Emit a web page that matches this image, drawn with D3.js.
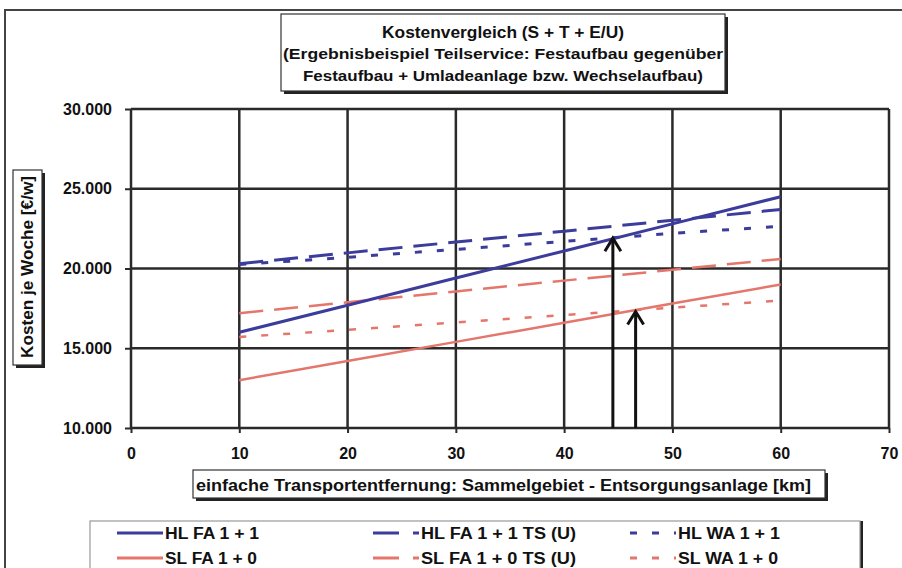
<!DOCTYPE html>
<html>
<head>
<meta charset="utf-8">
<script src="https://cdn.jsdelivr.net/npm/d3@7"></script>
<style>
  html, body { margin: 0; padding: 0; background: #fff; }
  svg { display: block; }
  text { font-family: "Liberation Sans", Arial, sans-serif; font-weight: bold; fill: #111; }
</style>
</head>
<body>
<svg id="chart" width="902" height="568"></svg>
<script>
// Transport distance (km) at which each cost curve is evaluated
const distances = [10, 20, 30, 40, 50, 60];

// Weekly costs (€/w) per variant
const hlFa = [16000, 17700, 19400, 21100, 22800, 24500];
const hlFaTs = [20300, 20980, 21660, 22340, 23020, 23700];
const hlWa = [20250, 20700, 21200, 21700, 22200, 22650];
const slFa = [13000, 14200, 15400, 16600, 17800, 19000];
const slFaTs = [17200, 17880, 18560, 19240, 19920, 20600];
const slWa = [15700, 16160, 16620, 17080, 17540, 18000];

const seriesNames = ["HL FA 1 + 1", "HL FA 1 + 1 TS (U)", "HL WA 1 + 1",
                     "SL FA 1 + 0", "SL FA 1 + 0 TS (U)", "SL WA 1 + 0"];

// Break-even markers: distance and cost where the arrows point
const arrowKm = [44.5, 46.6];
const arrowCost = [21900, 17300];

const xTicks = [0, 10, 20, 30, 40, 50, 60, 70];
const yTicks = [10000, 15000, 20000, 25000, 30000];

const titleLines = ["Kostenvergleich (S + T + E/U)",
                    "(Ergebnisbeispiel Teilservice: Festaufbau gegenüber",
                    "Festaufbau + Umladeanlage bzw. Wechselaufbau)"];
const xTitle = "einfache Transportentfernung: Sammelgebiet - Entsorgungsanlage [km]";
const yTitle = "Kosten je Woche [€/w]";

const BLUE = "#3c3c9c";
const RED = "#e4766c";

const svg = d3.select("#chart");

const x = d3.scaleLinear().domain([0, 70]).range([131, 889]);
const y = d3.scaleLinear().domain([10000, 30000]).range([428, 109]);

const de = d3.formatLocale({ decimal: ",", thousands: ".", grouping: [3], currency: ["", " €"] });
const fmt = de.format(",.0f");

// outer frame
svg.append("path").attr("d", "M5,568 V10 H902")
  .attr("fill", "none").attr("stroke", "#444").attr("stroke-width", 2);

// grid
const grid = svg.append("g").attr("stroke", "#2a2a2a").attr("stroke-width", 2.5);
grid.selectAll(".gx").data(xTicks).join("line")
  .attr("x1", d => x(d)).attr("x2", d => x(d))
  .attr("y1", y(30000)).attr("y2", y(10000));
grid.selectAll(".gy").data(yTicks).join("line")
  .attr("x1", x(0)).attr("x2", x(70))
  .attr("y1", d => y(d)).attr("y2", d => y(d));

// axes
const xAxis = svg.append("g").attr("transform", `translate(0,${y(10000)})`)
  .call(d3.axisBottom(x).tickValues(xTicks).tickSize(5).tickPadding(15).tickFormat(d3.format("d")));
const yAxis = svg.append("g").attr("transform", `translate(${x(0)},0)`)
  .call(d3.axisLeft(y).tickValues(yTicks).tickSize(6).tickPadding(13).tickFormat(fmt));
[xAxis, yAxis].forEach(g => {
  g.select(".domain").remove();
  g.selectAll(".tick line").attr("stroke", "#2a2a2a").attr("stroke-width", 2);
  g.selectAll(".tick text").attr("font-size", 16).attr("fill", "#111")
    .attr("font-family", "'Liberation Sans', Arial, sans-serif").attr("font-weight", "bold");
});

// series
const series = [
  { name: seriesNames[0], values: hlFa,   color: BLUE, width: 3,   dash: null },
  { name: seriesNames[1], values: hlFaTs, color: BLUE, width: 3,   dash: "24,11" },
  { name: seriesNames[2], values: hlWa,   color: BLUE, width: 3,   dash: "7,15" },
  { name: seriesNames[3], values: slFa,   color: RED,  width: 2.5, dash: null },
  { name: seriesNames[4], values: slFaTs, color: RED,  width: 2.5, dash: "24,11" },
  { name: seriesNames[5], values: slWa,   color: RED,  width: 2.5, dash: "7,15" }
];

const line = d3.line().x(d => x(d[0])).y(d => y(d[1]));
const drawOrder = [5, 4, 3, 2, 1, 0];
svg.append("g").selectAll("path").data(drawOrder.map(i => series[i])).join("path")
  .attr("d", s => line(distances.map((k, i) => [k, s.values[i]])))
  .attr("fill", "none")
  .attr("stroke", s => s.color)
  .attr("stroke-width", s => s.width)
  .attr("stroke-dasharray", s => s.dash);

// arrows
const arrows = svg.append("g").attr("stroke", "#111").attr("stroke-width", 3).attr("fill", "none");
arrowKm.forEach((k, i) => {
  const ax = x(k), tip = y(arrowCost[i]);
  arrows.append("line").attr("x1", ax).attr("x2", ax).attr("y1", y(10000)).attr("y2", tip + 1);
  arrows.append("path").attr("d", `M${ax - 8},${tip + 13} L${ax},${tip} L${ax + 8},${tip + 13}`)
    .attr("stroke-linejoin", "miter");
});

// boxed label with a drop shadow on the right and bottom
function shadowBox(x0, y0, w, h) {
  svg.append("path").attr("d", `M${x0 + 3},${y0 + h + 1.5} H${x0 + w + 1.5} V${y0 + 3}`)
    .attr("fill", "none").attr("stroke", "#222").attr("stroke-width", 3);
  svg.append("rect").attr("x", x0).attr("y", y0).attr("width", w).attr("height", h)
    .attr("fill", "#fff").attr("stroke", "#333").attr("stroke-width", 1.2);
}

// title
shadowBox(281, 14, 444, 77);
const tCx = 503;
svg.append("text").attr("x", tCx).attr("y", 38).attr("text-anchor", "middle")
  .attr("font-size", 17).attr("textLength", 242).attr("lengthAdjust", "spacingAndGlyphs").text(titleLines[0]);
svg.append("text").attr("x", tCx).attr("y", 59).attr("text-anchor", "middle")
  .attr("font-size", 15.5).attr("textLength", 440).attr("lengthAdjust", "spacingAndGlyphs").text(titleLines[1]);
svg.append("text").attr("x", tCx).attr("y", 81).attr("text-anchor", "middle")
  .attr("font-size", 15.5).attr("textLength", 400).attr("lengthAdjust", "spacingAndGlyphs").text(titleLines[2]);

// y axis title
shadowBox(13, 170, 29, 195);
svg.append("text").attr("transform", "translate(33,267) rotate(-90)").attr("text-anchor", "middle")
  .attr("font-size", 16).attr("textLength", 182).attr("lengthAdjust", "spacingAndGlyphs").text(yTitle);

// x axis title
shadowBox(193, 470, 632, 28);
svg.append("text").attr("x", 196).attr("y", 491)
  .attr("font-size", 16).attr("textLength", 615).attr("lengthAdjust", "spacingAndGlyphs").text(xTitle);

// legend
svg.append("path").attr("d", "M861.5,521 V568").attr("stroke", "#222").attr("stroke-width", 3);
svg.append("rect").attr("x", 90).attr("y", 521).attr("width", 770).attr("height", 60)
  .attr("fill", "#fff").attr("stroke", "#999").attr("stroke-width", 1.2);

const legCols = [117, 373, 630];
const legRows = [533, 558];
const legTextLen = [94, 155, 102, 92, 155, 100];
series.forEach((s, i) => {
  const col = i % 3, row = Math.floor(i / 3);
  const lx = legCols[col], ly = legRows[row];
  svg.append("line").attr("x1", lx).attr("x2", lx + 46).attr("y1", ly).attr("y2", ly)
    .attr("stroke", s.color).attr("stroke-width", 3)
    .attr("stroke-dasharray", s.dash ? (s.dash === "7,15" ? "7,15" : "26,14") : null);
  svg.append("text").attr("x", lx + 48).attr("y", ly + 6)
    .attr("font-size", 16).attr("textLength", legTextLen[i]).attr("lengthAdjust", "spacingAndGlyphs")
    .text(s.name);
});
</script>
</body>
</html>
